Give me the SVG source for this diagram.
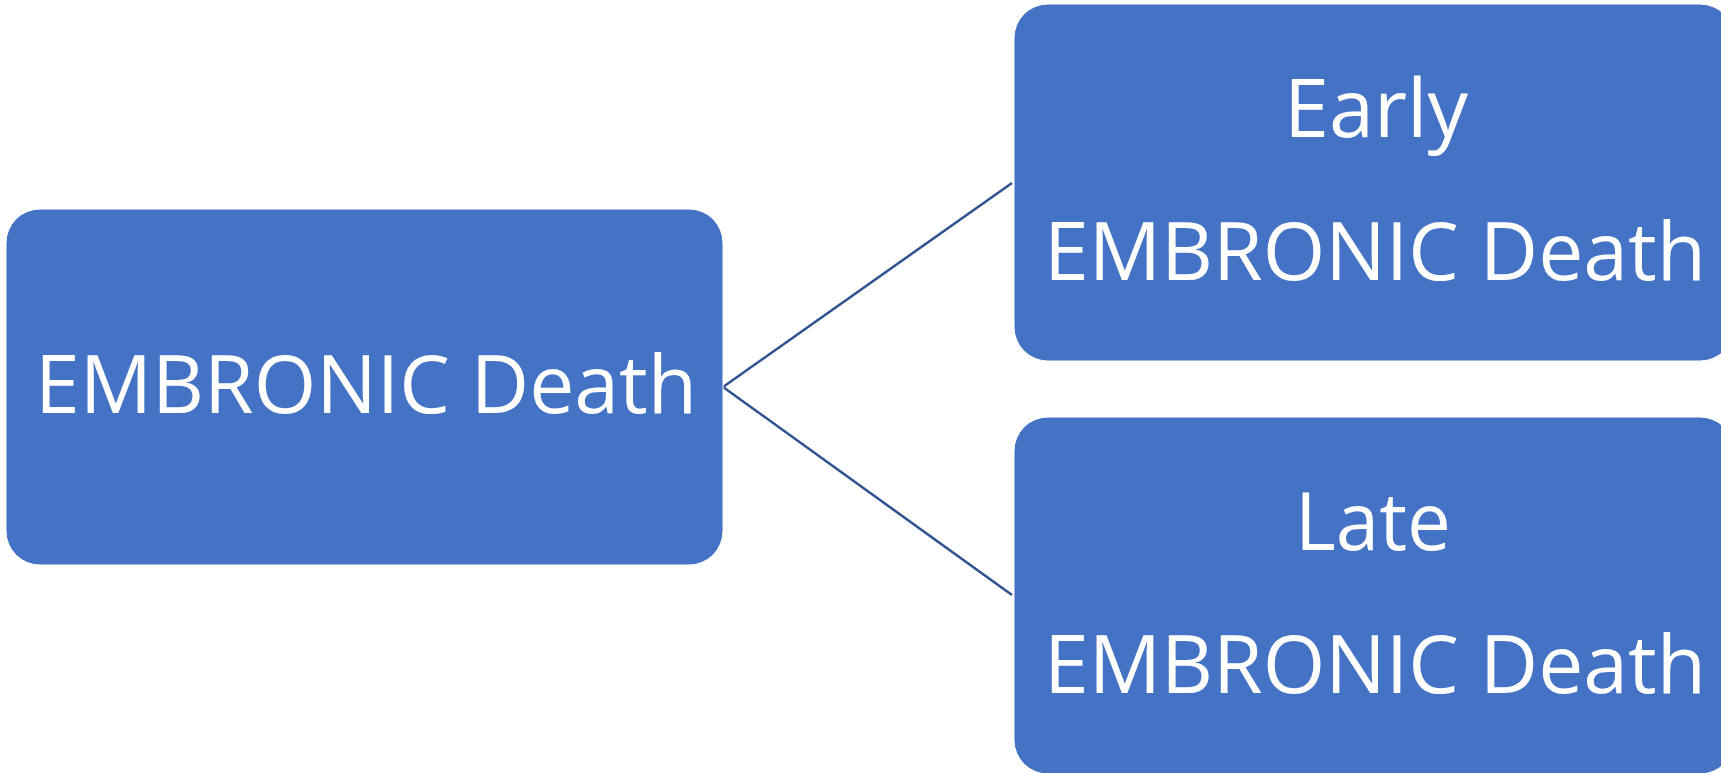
<svg xmlns="http://www.w3.org/2000/svg" width="1721" height="773" viewBox="0 0 1721 773">
<style>
.box{fill:#4472C4;stroke:#FFFFFF;stroke-width:1}
.lbl{font-family:"Open Sans","Noto Sans","Liberation Sans",sans-serif;font-size:81px;fill:#FFFFFF;text-anchor:middle}
.conn{stroke:#2F528F;stroke-width:2.5;fill:none}
</style>
<rect width="1721" height="773" fill="#FFFFFF"/>
<g id="connectors">
<line class="conn" x1="723" y1="387" x2="1012" y2="183"/>
<line class="conn" x1="723" y1="387" x2="1012" y2="595"/>
</g>
<g id="node-root">
<rect class="box" x="6" y="209" width="717" height="356" rx="34" ry="34"/>
<text class="lbl" x="366" y="413" textLength="662" lengthAdjust="spacingAndGlyphs">EMBRONIC Death</text>
</g>
<g id="node-early">
<rect class="box" x="1014" y="4" width="720" height="357" rx="34" ry="34"/>
<text class="lbl" x="1376" y="137" textLength="184" lengthAdjust="spacingAndGlyphs">Early</text>
<text class="lbl" x="1375" y="280" textLength="662" lengthAdjust="spacingAndGlyphs">EMBRONIC Death</text>
</g>
<g id="node-late">
<rect class="box" x="1014" y="417" width="720" height="357" rx="34" ry="34"/>
<text class="lbl" x="1373" y="550" textLength="156" lengthAdjust="spacingAndGlyphs">Late</text>
<text class="lbl" x="1375" y="693" textLength="662" lengthAdjust="spacingAndGlyphs">EMBRONIC Death</text>
</g>
</svg>
